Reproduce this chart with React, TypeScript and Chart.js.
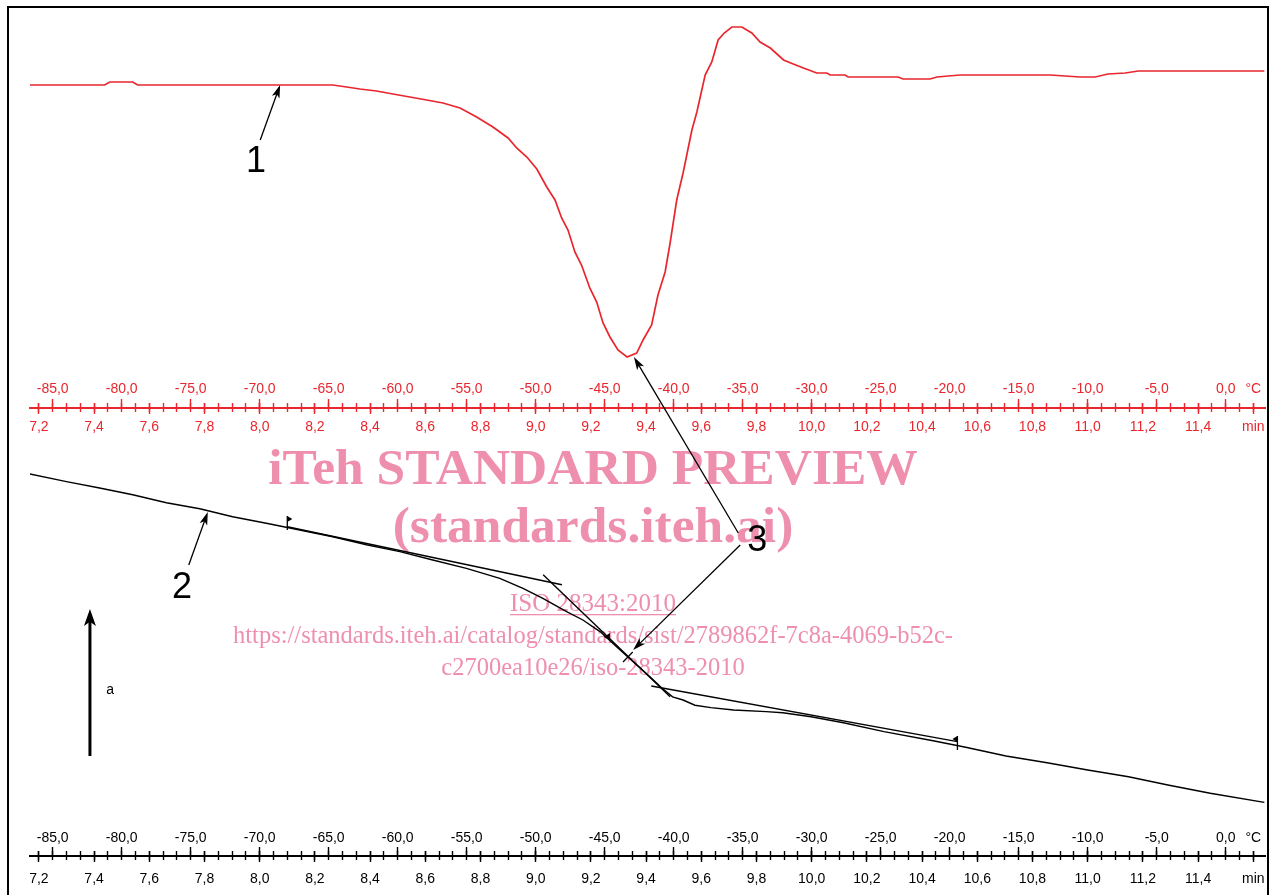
import React, { useEffect, useRef } from 'react';
import { Chart, registerables } from 'chart.js';

Chart.register(...registerables);

const RED = '#e9262d';
const BLACK = '#000000';
const PINK = '#ef8fae';
const SANS = "'Liberation Sans', Arial, sans-serif";
const SERIF = "'Liberation Serif', 'Times New Roman', serif";

// ---- axes -------------------------------------------------------------
const TIME_RANGE = [7.1678, 11.6424]; // min, across plot width (20 K/min heating)
const TEMP_RANGE = [-86.645, 2.848]; // °C, across plot width
const TIME_TICKS = [7.2, 7.4, 7.6, 7.8, 8.0, 8.2, 8.4, 8.6, 8.8, 9.0, 9.2, 9.4, 9.6, 9.8, 10.0, 10.2, 10.4, 10.6, 10.8, 11.0, 11.2, 11.4, 11.6];
const TIME_UNIT = 'min';
const TEMP_TICKS = [-85, -80, -75, -70, -65, -60, -55, -50, -45, -40, -35, -30, -25, -20, -15, -10, -5, 0];
const TEMP_MINOR_TICKS = [
  -86, -85, -84, -83, -82, -81, -80, -79, -78, -77, -76, -75, -74, -73, -72, -71, -70, -69, -68, -67,
  -66, -65, -64, -63, -62, -61, -60, -59, -58, -57, -56, -55, -54, -53, -52, -51, -50, -49, -48, -47,
  -46, -45, -44, -43, -42, -41, -40, -39, -38, -37, -36, -35, -34, -33, -32, -31, -30, -29, -28, -27,
  -26, -25, -24, -23, -22, -21, -20, -19, -18, -17, -16, -15, -14, -13, -12, -11, -10, -9, -8, -7,
  -6, -5, -4, -3, -2, -1, 0, 1, 2,
];
const TEMP_UNIT_TICKS = [2];
const TEMP_UNIT = '°C';

// ---- curve 1 (DSC heat flow, red) ---------------------------------------
const DSC_TIME = [7.167, 7.438, 7.457, 7.540, 7.558, 8.265, 8.315, 8.363, 8.423, 8.483, 8.544, 8.605, 8.664, 8.726, 8.786, 8.845, 8.900, 8.931, 8.968, 9.004, 9.040, 9.070, 9.094, 9.117, 9.142, 9.166, 9.196, 9.221, 9.244, 9.269, 9.298, 9.331, 9.366, 9.389, 9.420, 9.443, 9.469, 9.487, 9.511, 9.534, 9.566, 9.584, 9.614, 9.638, 9.661, 9.683, 9.711, 9.747, 9.783, 9.813, 9.850, 9.898, 9.933, 9.970, 10.018, 10.055, 10.067, 10.121, 10.132, 10.313, 10.331, 10.429, 10.454, 10.538, 10.864, 10.973, 11.027, 11.074, 11.136, 11.183, 11.640];
const DSC_VALUE = [0, 0, 0.03, 0.03, 0, 0, -0.02, -0.04, -0.06, -0.09, -0.12, -0.15, -0.18, -0.23, -0.32, -0.42, -0.53, -0.63, -0.72, -0.84, -1.02, -1.15, -1.33, -1.45, -1.67, -1.80, -2.03, -2.17, -2.38, -2.52, -2.65, -2.72, -2.68, -2.55, -2.40, -2.10, -1.87, -1.58, -1.15, -0.88, -0.45, -0.27, 0.10, 0.23, 0.45, 0.52, 0.58, 0.58, 0.52, 0.43, 0.37, 0.25, 0.21, 0.17, 0.12, 0.12, 0.10, 0.10, 0.08, 0.08, 0.06, 0.06, 0.08, 0.10, 0.10, 0.08, 0.08, 0.11, 0.12, 0.14, 0.14];

// ---- curve 2 (black) --------------------------------------------------------
const SIG_TIME = [7.167, 7.300, 7.420, 7.540, 7.662, 7.783, 7.902, 8.024, 8.145, 8.265, 8.387, 8.508, 8.627, 8.749, 8.870, 8.954, 9.026, 9.112, 9.171, 9.233, 9.293, 9.352, 9.414, 9.457, 9.496, 9.534, 9.577, 9.635, 9.717, 9.835, 9.895, 9.998, 10.115, 10.262, 10.440, 10.558, 10.704, 10.853, 11.000, 11.148, 11.295, 11.444, 11.640];
const SIG_VALUE = [4.15, 3.96, 3.80, 3.63, 3.43, 3.28, 3.08, 2.92, 2.75, 2.58, 2.38, 2.21, 2.00, 1.79, 1.54, 1.29, 1.04, 0.71, 0.50, 0.21, -0.17, -0.54, -0.92, -1.20, -1.42, -1.50, -1.63, -1.69, -1.75, -1.79, -1.82, -1.92, -2.07, -2.29, -2.52, -2.68, -2.90, -3.07, -3.25, -3.42, -3.63, -3.83, -4.06];

// tangents on curve 2
const TAN_BEFORE_TIME = [8.100, 9.095];
const TAN_BEFORE_VALUE = [2.83, 1.38];
const TAN_STEEP_TIME = [9.027, 9.487];
const TAN_STEEP_VALUE = [1.63, -1.42];
const TAN_AFTER_TIME = [9.419, 10.528];
const TAN_AFTER_VALUE = [-1.15, -2.54];

// ---- annotations (data coordinates) --------------------------------------
const CALLOUTS = [
  { text: '1', axis: 'yDsc', label: [7.987, -0.77], tail: [8.002, -0.55], tip: [8.074, 0] },
  { text: '2', axis: 'ySig', label: [7.719, 1.3], tail: [7.743, 1.875], tip: [7.812, 3.2] },
  { text: '3', axis: 'ySig', label: [9.803, 2.475], tail: [9.741, 2.375], tip: [9.353, -0.25] },
  { text: '', axis: 'yDsc', label: [0, 0], tail: [9.734, -4.48], tip: [9.356, -2.72] },
];
const DIRECTION_ARROW = { time: 7.385, from: -2.9, to: 0.775, text: 'a', label: [7.458, -1.25] };
const FLAGS = [
  { time: 8.100, value: 2.925, dir: 1 },
  { time: 10.528, value: -2.575, dir: -1 },
];
const SMALL_MARK = { time: 9.258, value: 0.075 };
const CROSS_MARK = { time: 9.334, value: -0.425 };

const WATERMARK_X = 593;
const WATERMARK_LINES = [
  { text: 'iTeh STANDARD PREVIEW', size: 51.5, bold: true, baseline: 484, underline: false },
  { text: '(standards.iteh.ai)', size: 51.5, bold: true, baseline: 542, underline: false },
  { text: 'ISO 28343:2010', size: 25, bold: false, baseline: 611, underline: true },
  { text: 'https://standards.iteh.ai/catalog/standards/sist/2789862f-7c8a-4069-b52c-', size: 24.5, bold: false, baseline: 643, underline: false },
  { text: 'c2700ea10e26/iso-28343-2010', size: 24.5, bold: false, baseline: 675, underline: false },
];

const fmt = (v: number) => v.toFixed(1).replace('.', ',');
const pts = (xs: number[], ys: number[]) => xs.map((x, i) => ({ x, y: ys[i] }));

function axisBand(prefix: string, lineY: number, color: string, tempPad: number, timePad: number) {
  const only = (values: number[]) => (scale: any) => {
    scale.ticks = values.map((value) => ({ value }));
  };
  const font = { family: SANS, size: 14, lineHeight: 1.2 };
  const common = { type: 'linear', axis: 'x', bounds: 'data', offset: false };
  const tempRange = { min: TEMP_RANGE[0], max: TEMP_RANGE[1] };
  const timeRange = { min: TIME_RANGE[0], max: TIME_RANGE[1] };
  const tickGrid = (len: number, show = true) => ({
    display: show,
    drawOnChartArea: false,
    drawTicks: true,
    tickLength: len,
    tickWidth: 1.4,
    color,
    tickColor: color,
  });
  const labels = (pad: number, cb: (v: number) => string) => ({
    display: true,
    autoSkip: false,
    maxRotation: 0,
    minRotation: 0,
    padding: pad,
    color,
    font,
    callback: (v: any) => cb(Number(v)),
  });
  return {
    [`x${prefix}Line`]: {
      ...common, ...timeRange,
      position: { yPos: lineY },
      grid: { display: false },
      ticks: { display: false },
      border: { display: true, color, width: 2 },
    },
    [`x${prefix}Minor`]: {
      ...common, ...tempRange,
      position: { yPos: lineY - 5 },
      afterBuildTicks: only(TEMP_MINOR_TICKS),
      grid: tickGrid(9),
      border: { display: false },
      ticks: { display: false },
    },
    [`x${prefix}Temp`]: {
      ...common, ...tempRange,
      position: { yPos: lineY - 9 },
      afterBuildTicks: only(TEMP_TICKS),
      grid: tickGrid(9),
      border: { display: false },
      ticks: labels(tempPad, fmt),
    },
    [`x${prefix}TempUnit`]: {
      ...common, ...tempRange,
      position: { yPos: lineY - 9 },
      afterBuildTicks: only(TEMP_UNIT_TICKS),
      grid: tickGrid(9, false),
      border: { display: false },
      ticks: labels(tempPad, () => TEMP_UNIT),
    },
    [`x${prefix}Time`]: {
      ...common, ...timeRange,
      position: { yPos: lineY - 5 },
      afterBuildTicks: only(TIME_TICKS),
      grid: tickGrid(11),
      border: { display: false },
      ticks: labels(timePad, (v) =>
        Math.abs(v - TIME_TICKS[TIME_TICKS.length - 1]) < 1e-9 ? TIME_UNIT : fmt(v)
      ),
    },
  };
}

function drawArrow(ctx: CanvasRenderingContext2D, x1: number, y1: number, x2: number, y2: number, lw: number, len: number, half: number) {
  const a = Math.atan2(y2 - y1, x2 - x1);
  const c = Math.cos(a);
  const s = Math.sin(a);
  const bx = x2 - len * c;
  const by = y2 - len * s;
  ctx.strokeStyle = BLACK;
  ctx.fillStyle = BLACK;
  ctx.lineWidth = lw;
  ctx.beginPath();
  ctx.moveTo(x1, y1);
  ctx.lineTo(x2 - len * 0.7 * c, y2 - len * 0.7 * s);
  ctx.stroke();
  ctx.beginPath();
  ctx.moveTo(x2, y2);
  ctx.lineTo(bx + half * s, by - half * c);
  ctx.lineTo(x2 - len * 0.75 * c, y2 - len * 0.75 * s);
  ctx.lineTo(bx - half * s, by + half * c);
  ctx.closePath();
  ctx.fill();
}

const watermarkPlugin = {
  id: 'watermark',
  beforeDatasetsDraw(chart: any) {
    const { ctx } = chart;
    ctx.save();
    ctx.fillStyle = PINK;
    ctx.textAlign = 'center';
    ctx.textBaseline = 'alphabetic';
    for (const line of WATERMARK_LINES) {
      ctx.font = `${line.bold ? 'bold ' : ''}${line.size}px ${SERIF}`;
      ctx.fillText(line.text, WATERMARK_X, line.baseline);
      if (line.underline) {
        const w = ctx.measureText(line.text).width;
        ctx.fillRect(WATERMARK_X - w / 2, line.baseline + 3, w, 1.3);
      }
    }
    ctx.restore();
  },
};

const annotationPlugin = {
  id: 'annotations',
  afterDatasetsDraw(chart: any) {
    const { ctx, scales } = chart;
    const X = (t: number) => scales.x.getPixelForValue(t);
    const Y = (axis: string, v: number) => scales[axis].getPixelForValue(v);
    ctx.save();
    for (const c of CALLOUTS) {
      drawArrow(ctx, X(c.tail[0]), Y(c.axis, c.tail[1]), X(c.tip[0]), Y(c.axis, c.tip[1]), 1.3, 13, 4);
      if (c.text) {
        ctx.fillStyle = BLACK;
        ctx.font = `36px ${SANS}`;
        ctx.textAlign = 'center';
        ctx.textBaseline = 'middle';
        ctx.fillText(c.text, X(c.label[0]), Y(c.axis, c.label[1]));
      }
    }
    const ax = X(DIRECTION_ARROW.time);
    drawArrow(ctx, ax, Y('ySig', DIRECTION_ARROW.from), ax, Y('ySig', DIRECTION_ARROW.to), 3, 17, 6);
    ctx.fillStyle = BLACK;
    ctx.font = `14px ${SANS}`;
    ctx.textAlign = 'center';
    ctx.textBaseline = 'middle';
    ctx.fillText(DIRECTION_ARROW.text, X(DIRECTION_ARROW.label[0]), Y('ySig', DIRECTION_ARROW.label[1]));
    ctx.lineWidth = 1.3;
    ctx.strokeStyle = BLACK;
    for (const f of FLAGS) {
      const fx = X(f.time);
      const fy = Y('ySig', f.value);
      ctx.beginPath();
      ctx.moveTo(fx, fy - 7);
      ctx.lineTo(fx, fy + 7);
      ctx.stroke();
      ctx.beginPath();
      ctx.moveTo(fx, fy - 7);
      ctx.lineTo(fx + 5 * f.dir, fy - 4);
      ctx.lineTo(fx, fy - 1);
      ctx.closePath();
      ctx.fill();
    }
    const mx = X(SMALL_MARK.time);
    const my = Y('ySig', SMALL_MARK.value);
    ctx.beginPath();
    ctx.moveTo(mx + 3, my - 4);
    ctx.lineTo(mx - 3, my);
    ctx.lineTo(mx + 3, my + 3);
    ctx.closePath();
    ctx.fill();
    const tx1 = X(TAN_STEEP_TIME[0]);
    const ty1 = Y('ySig', TAN_STEEP_VALUE[0]);
    const tx2 = X(TAN_STEEP_TIME[1]);
    const ty2 = Y('ySig', TAN_STEEP_VALUE[1]);
    const ang = Math.atan2(ty2 - ty1, tx2 - tx1) + Math.PI / 2;
    const cx = X(CROSS_MARK.time);
    const cy = Y('ySig', CROSS_MARK.value);
    ctx.beginPath();
    ctx.moveTo(cx - 7 * Math.cos(ang), cy - 7 * Math.sin(ang));
    ctx.lineTo(cx + 7 * Math.cos(ang), cy + 7 * Math.sin(ang));
    ctx.stroke();
    ctx.restore();
  },
};

export default function App() {
  const ref = useRef<HTMLCanvasElement>(null);

  useEffect(() => {
    if (!ref.current) return;
    Chart.defaults.font.family = SANS;
    const line = (data: any[], yAxisID: string, color: string, width: number) => ({
      data,
      xAxisID: 'x',
      yAxisID,
      borderColor: color,
      backgroundColor: color,
      borderWidth: width,
      pointRadius: 0,
      pointHoverRadius: 0,
      tension: 0,
      fill: false,
    });
    const chart = new Chart(ref.current, {
      type: 'line',
      data: {
        datasets: [
          line(pts(DSC_TIME, DSC_VALUE), 'yDsc', RED, 1.7),
          line(pts(SIG_TIME, SIG_VALUE), 'ySig', BLACK, 1.4),
          line(pts(TAN_BEFORE_TIME, TAN_BEFORE_VALUE), 'ySig', BLACK, 1.4),
          line(pts(TAN_STEEP_TIME, TAN_STEEP_VALUE), 'ySig', BLACK, 1.4),
          line(pts(TAN_AFTER_TIME, TAN_AFTER_VALUE), 'ySig', BLACK, 1.4),
        ] as any,
      },
      options: {
        responsive: false,
        animation: false,
        devicePixelRatio: 1,
        events: [],
        layout: { padding: { left: 30, right: 10, top: 0, bottom: 0 } },
        plugins: { legend: { display: false }, tooltip: { enabled: false }, title: { display: false } },
        scales: {
          x: { type: 'linear', min: TIME_RANGE[0], max: TIME_RANGE[1], display: false, bounds: 'data' },
          yPos: { type: 'linear', axis: 'y', min: 0, max: 895, reverse: true, display: false },
          yDsc: { type: 'linear', axis: 'y', min: -8.1, max: 0.85, display: false },
          ySig: { type: 'linear', axis: 'y', min: -6.375, max: 16, display: false },
          ...axisBand('Top', 408, RED, -27.7, 4.6),
          ...axisBand('Bot', 856, BLACK, -26.1, 8.9),
        } as any,
      },
      plugins: [watermarkPlugin, annotationPlugin],
    } as any);
    return () => chart.destroy();
  }, []);

  return (
    <div style={{ position: 'absolute', left: 0, top: 0, width: 1275, height: 895, overflow: 'hidden', background: '#fff' }}>
      <canvas ref={ref} width={1275} height={895} style={{ position: 'absolute', left: 0, top: 0, width: 1275, height: 895 }} />
      <div
        style={{
          position: 'absolute',
          left: 7,
          top: 6,
          width: 1258,
          height: 1000,
          border: '2px solid #000',
          pointerEvents: 'none',
        }}
      />
    </div>
  );
}
